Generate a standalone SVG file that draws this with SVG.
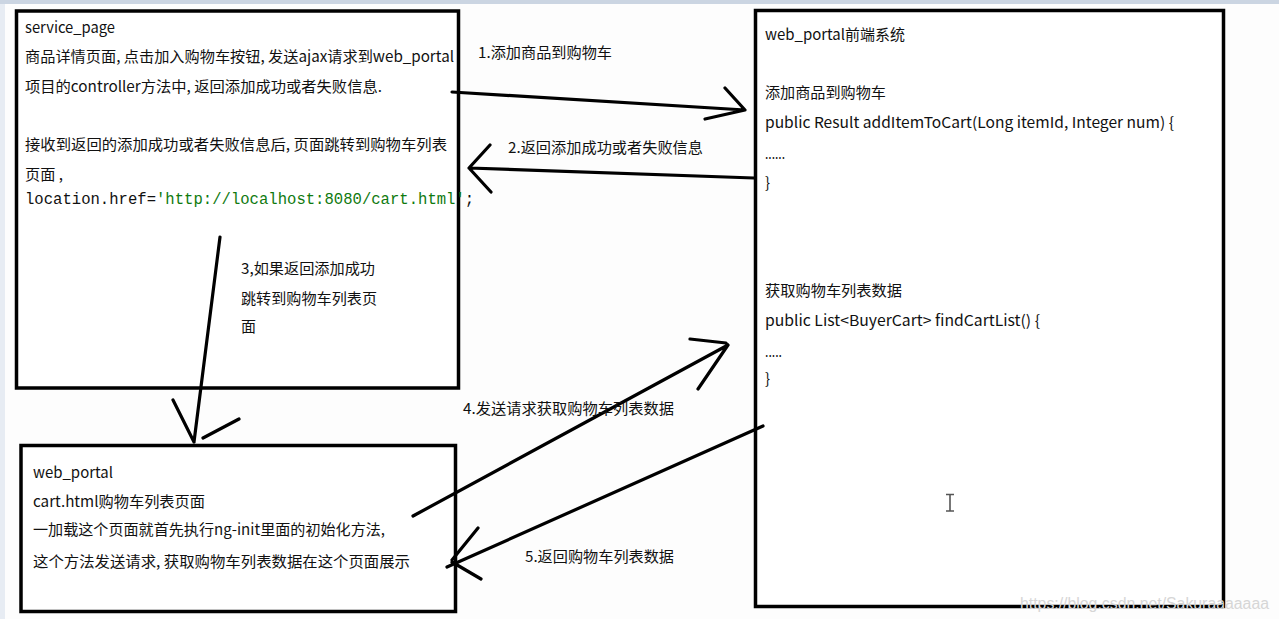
<svg xmlns="http://www.w3.org/2000/svg" width="1279" height="619" viewBox="0 0 1279 619">
<defs>
<style>
.box{fill:#ffffff;stroke:#000;stroke-width:3.5}
.t{font-family:"Microsoft YaHei","Noto Sans CJK SC","Noto Sans",sans-serif;font-size:15px;fill:#111}
.code{font-family:"Liberation Mono","DejaVu Sans Mono",monospace;font-size:15.6px;fill:#111}
.str{fill:#0f7a0f}
.ln{fill:none;stroke:#000;stroke-width:3.2;stroke-linecap:round;stroke-linejoin:round}
.wm{font-family:"Liberation Sans",Arial,sans-serif;font-size:16px;fill:#d6d6d6}
</style>
</defs>
<rect x="0" y="0" width="1279" height="619" fill="#fdfdfd"/>
<rect x="0" y="0" width="1279" height="4" fill="#cbd5e2"/>
<rect x="0" y="4" width="5" height="615" fill="#e7ecf3"/>

<g id="service_page">
<rect class="box" x="16.5" y="11" width="442" height="377"/>
<text class="t" x="25" y="33" textLength="90" lengthAdjust="spacingAndGlyphs">service_page</text>
<text class="t" x="25" y="62" textLength="429" lengthAdjust="spacingAndGlyphs">商品详情页面, 点击加入购物车按钮, 发送ajax请求到web_portal</text>
<text class="t" x="25" y="92" textLength="357" lengthAdjust="spacingAndGlyphs">项目的controller方法中, 返回添加成功或者失败信息.</text>
<text class="t" x="25" y="150" textLength="422" lengthAdjust="spacingAndGlyphs">接收到返回的添加成功或者失败信息后, 页面跳转到购物车列表</text>
<text class="t" x="25" y="180" textLength="38" lengthAdjust="spacingAndGlyphs">页面 ,</text>
<text class="code" x="25" y="204">location.href=<tspan class="str">'http://localhost:8080/cart.html'</tspan>;</text>
</g>

<g id="web_portal_system">
<rect class="box" x="755.5" y="10.5" width="468" height="596"/>
<text class="t" x="765" y="40" textLength="140" lengthAdjust="spacingAndGlyphs">web_portal前端系统</text>
<text class="t" x="765" y="98" textLength="121" lengthAdjust="spacingAndGlyphs">添加商品到购物车</text>
<text class="t" x="765" y="128" textLength="409" lengthAdjust="spacingAndGlyphs">public Result addItemToCart(Long itemId, Integer num) {</text>
<text class="t" x="765" y="159" textLength="20" lengthAdjust="spacingAndGlyphs">......</text>
<text class="t" x="765" y="188">}</text>
<text class="t" x="765" y="296" textLength="137" lengthAdjust="spacingAndGlyphs">获取购物车列表数据</text>
<text class="t" x="765" y="326" textLength="275" lengthAdjust="spacingAndGlyphs">public List&lt;BuyerCart&gt; findCartList() {</text>
<text class="t" x="765" y="357" textLength="17" lengthAdjust="spacingAndGlyphs">.....</text>
<text class="t" x="765" y="384">}</text>
</g>

<g id="cart_page">
<rect class="box" x="21" y="445.5" width="434.5" height="166"/>
<text class="t" x="33" y="478" textLength="80" lengthAdjust="spacingAndGlyphs">web_portal</text>
<text class="t" x="33" y="507" textLength="172" lengthAdjust="spacingAndGlyphs">cart.html购物车列表页面</text>
<text class="t" x="33" y="535" textLength="352" lengthAdjust="spacingAndGlyphs">一加载这个页面就首先执行ng-init里面的初始化方法,</text>
<text class="t" x="33" y="567" textLength="377" lengthAdjust="spacingAndGlyphs">这个方法发送请求, 获取购物车列表数据在这个页面展示</text>
</g>

<g id="connectors">
<path class="ln" d="M452 92 L745 110 M725 88 L745 110 L705 119"/>
<path class="ln" d="M754 178 L469 168 M490 145 L469 168 L491 192"/>
<path class="ln" d="M220 237 L194 442 M173 400 L194 442 M203 438 L239 419"/>
<path class="ln" d="M413 516 L728 345 M690 339 L726 343 M728 345 L698 389"/>
<path class="ln" d="M763 426 L447 567 M478 528 L452 560 M452 562 L481 579"/>
</g>

<g id="labels">
<text class="t" x="478" y="58" textLength="134" lengthAdjust="spacingAndGlyphs">1.添加商品到购物车</text>
<text class="t" x="508" y="153" textLength="195" lengthAdjust="spacingAndGlyphs">2.返回添加成功或者失败信息</text>
<text class="t" x="241" y="274" textLength="134" lengthAdjust="spacingAndGlyphs">3,如果返回添加成功</text>
<text class="t" x="241" y="304" textLength="136" lengthAdjust="spacingAndGlyphs">跳转到购物车列表页</text>
<text class="t" x="241" y="332">面</text>
<text class="t" x="463" y="414" textLength="211" lengthAdjust="spacingAndGlyphs">4.发送请求获取购物车列表数据</text>
<text class="t" x="525" y="562" textLength="149" lengthAdjust="spacingAndGlyphs">5.返回购物车列表数据</text>
</g>

<path d="M946 494.5 H954 M950 494.5 V511 M946 511 H954" fill="none" stroke="#555" stroke-width="1.6"/>
<text class="wm" x="1020" y="609" textLength="249" lengthAdjust="spacingAndGlyphs">https://blog.csdn.net/Sakuraaaaaaa</text>
</svg>
